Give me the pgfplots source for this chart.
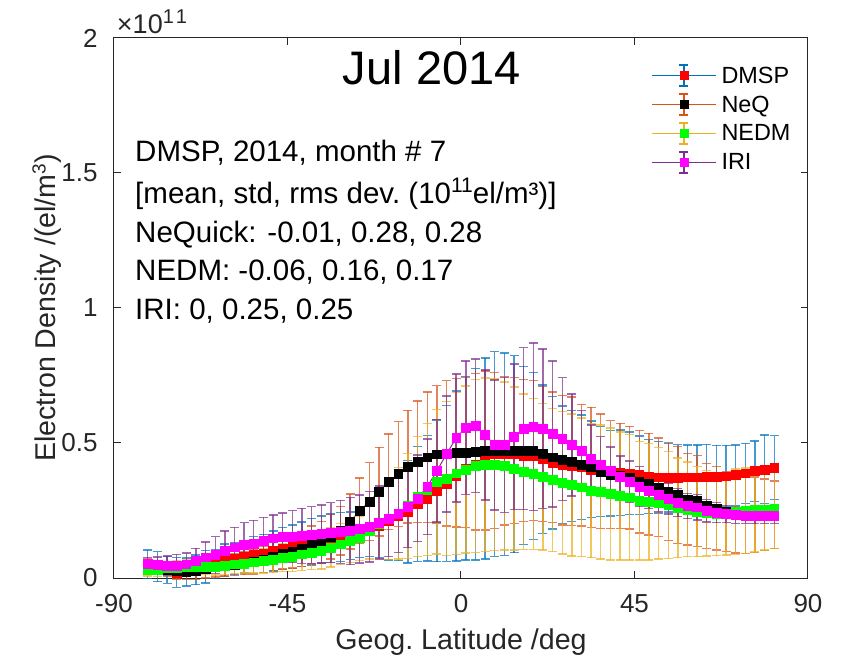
\documentclass[border=0pt]{standalone}
\usepackage{fontspec}
\setmainfont{Liberation Sans}
\usepackage{pgfplots}
\usepackage{pgfplotstable}
\pgfplotsset{compat=1.18}

\definecolor{ebBlue}{rgb}{0,0.447,0.741}
\definecolor{ebOrange}{rgb}{0.85,0.325,0.098}
\definecolor{ebYellow}{rgb}{0.929,0.694,0.125}
\definecolor{ebPurple}{rgb}{0.494,0.184,0.556}
\definecolor{axgray}{rgb}{0.15,0.15,0.15}
\definecolor{mkRed}{rgb}{1,0,0}
\definecolor{mkBlack}{rgb}{0,0,0}
\definecolor{mkGreen}{rgb}{0,1,0}
\definecolor{mkMagenta}{rgb}{1,0,1}

% electron density (1e11 el/m^3) and standard deviation, 2.5 deg latitude bins
\pgfplotstableread{
lat ne err
-81.25 0.051 0.053
-78.75 0.042 0.056
-76.25 0.030 0.050
-73.75 0.020 0.055
-71.25 0.022 0.052
-68.75 0.030 0.055
-66.25 0.042 0.060
-63.75 0.051 0.052
-61.25 0.066 0.060
-58.75 0.072 0.058
-56.25 0.079 0.060
-53.75 0.085 0.068
-51.25 0.091 0.070
-48.75 0.100 0.074
-46.25 0.110 0.078
-43.75 0.116 0.080
-41.25 0.125 0.082
-38.75 0.134 0.086
-36.25 0.141 0.088
-33.75 0.147 0.090
-31.25 0.152 0.090
-28.75 0.157 0.088
-26.25 0.165 0.088
-23.75 0.180 0.100
-21.25 0.195 0.120
-18.75 0.212 0.145
-16.25 0.232 0.168
-13.75 0.246 0.190
-11.25 0.274 0.212
-8.75 0.295 0.232
-6.25 0.323 0.262
-3.75 0.350 0.288
-1.25 0.378 0.315
1.25 0.406 0.340
3.75 0.421 0.354
6.25 0.443 0.372
8.75 0.459 0.379
11.25 0.459 0.375
13.75 0.459 0.365
16.25 0.454 0.330
18.75 0.452 0.310
21.25 0.440 0.275
23.75 0.427 0.245
26.25 0.419 0.218
28.75 0.415 0.205
31.25 0.410 0.193
33.75 0.402 0.179
36.25 0.394 0.167
38.75 0.388 0.158
41.25 0.390 0.158
43.75 0.388 0.153
46.25 0.381 0.145
48.75 0.376 0.138
51.25 0.373 0.133
53.75 0.372 0.127
56.25 0.372 0.122
58.75 0.373 0.120
61.25 0.373 0.120
63.75 0.375 0.120
66.25 0.376 0.115
68.75 0.377 0.114
71.25 0.381 0.112
73.75 0.388 0.111
76.25 0.396 0.112
78.75 0.402 0.127
81.25 0.409 0.118
}\dmsp

\pgfplotstableread{
lat ne err
-81.25 0.045 0.025
-78.75 0.040 0.025
-76.25 0.032 0.026
-73.75 0.025 0.028
-71.25 0.024 0.030
-68.75 0.027 0.032
-66.25 0.034 0.034
-63.75 0.040 0.036
-61.25 0.045 0.038
-58.75 0.049 0.040
-56.25 0.054 0.042
-53.75 0.060 0.045
-51.25 0.069 0.048
-48.75 0.079 0.052
-46.25 0.089 0.056
-43.75 0.097 0.060
-41.25 0.107 0.064
-38.75 0.122 0.070
-36.25 0.134 0.076
-33.75 0.153 0.082
-31.25 0.175 0.090
-28.75 0.209 0.102
-26.25 0.250 0.120
-23.75 0.283 0.144
-21.25 0.320 0.164
-18.75 0.357 0.177
-16.25 0.385 0.194
-13.75 0.412 0.209
-11.25 0.431 0.225
-8.75 0.447 0.242
-6.25 0.458 0.254
-3.75 0.462 0.269
-1.25 0.464 0.275
1.25 0.465 0.278
3.75 0.468 0.290
6.25 0.472 0.294
8.75 0.472 0.288
11.25 0.472 0.275
13.75 0.472 0.270
16.25 0.472 0.263
18.75 0.472 0.260
21.25 0.459 0.250
23.75 0.447 0.242
26.25 0.437 0.240
28.75 0.432 0.238
31.25 0.418 0.225
33.75 0.410 0.222
36.25 0.395 0.212
38.75 0.383 0.200
41.25 0.378 0.195
43.75 0.372 0.190
46.25 0.357 0.190
48.75 0.348 0.188
51.25 0.336 0.183
53.75 0.320 0.182
56.25 0.307 0.180
58.75 0.292 0.170
61.25 0.285 0.169
63.75 0.267 0.157
66.25 0.258 0.154
68.75 0.246 0.148
71.25 0.240 0.148
73.75 0.236 0.145
76.25 0.234 0.140
78.75 0.234 0.133
81.25 0.234 0.125
}\neq

\pgfplotstableread{
lat ne err
-81.25 0.030 0.023
-78.75 0.030 0.024
-76.25 0.036 0.026
-73.75 0.036 0.027
-71.25 0.040 0.028
-68.75 0.040 0.029
-66.25 0.042 0.030
-63.75 0.042 0.031
-61.25 0.046 0.032
-58.75 0.051 0.034
-56.25 0.054 0.036
-53.75 0.058 0.040
-51.25 0.063 0.044
-48.75 0.068 0.048
-46.25 0.075 0.052
-43.75 0.080 0.056
-41.25 0.088 0.060
-38.75 0.095 0.064
-36.25 0.102 0.068
-33.75 0.113 0.072
-31.25 0.125 0.076
-28.75 0.138 0.080
-26.25 0.147 0.082
-23.75 0.175 0.105
-21.25 0.200 0.128
-18.75 0.221 0.152
-16.25 0.240 0.170
-13.75 0.267 0.195
-11.25 0.301 0.222
-8.75 0.328 0.245
-6.25 0.357 0.268
-3.75 0.369 0.285
-1.25 0.388 0.300
1.25 0.402 0.309
3.75 0.415 0.321
6.25 0.419 0.321
8.75 0.419 0.318
11.25 0.415 0.311
13.75 0.406 0.302
16.25 0.394 0.288
18.75 0.385 0.279
21.25 0.375 0.272
23.75 0.363 0.265
26.25 0.353 0.264
28.75 0.344 0.263
31.25 0.336 0.257
33.75 0.323 0.248
36.25 0.319 0.248
38.75 0.311 0.244
41.25 0.304 0.237
43.75 0.299 0.232
46.25 0.286 0.220
48.75 0.283 0.216
51.25 0.277 0.207
53.75 0.270 0.198
56.25 0.260 0.185
58.75 0.254 0.175
61.25 0.246 0.167
63.75 0.240 0.158
66.25 0.236 0.153
68.75 0.237 0.152
71.25 0.246 0.158
73.75 0.249 0.158
76.25 0.254 0.158
78.75 0.254 0.151
81.25 0.256 0.146
}\nedm

\pgfplotstableread{
lat ne err
-81.25 0.052 0.025
-78.75 0.048 0.030
-76.25 0.046 0.036
-73.75 0.046 0.042
-71.25 0.051 0.041
-68.75 0.063 0.047
-66.25 0.077 0.056
-63.75 0.085 0.068
-61.25 0.101 0.073
-58.75 0.114 0.074
-56.25 0.122 0.083
-53.75 0.128 0.086
-51.25 0.137 0.088
-48.75 0.147 0.086
-46.25 0.153 0.088
-43.75 0.153 0.096
-41.25 0.156 0.102
-38.75 0.159 0.105
-36.25 0.163 0.107
-33.75 0.168 0.111
-31.25 0.171 0.117
-28.75 0.174 0.125
-26.25 0.181 0.126
-23.75 0.190 0.130
-21.25 0.205 0.135
-18.75 0.219 0.140
-16.25 0.237 0.143
-13.75 0.264 0.152
-11.25 0.295 0.160
-8.75 0.338 0.177
-6.25 0.397 0.190
-3.75 0.459 0.215
-1.25 0.519 0.237
1.25 0.557 0.247
3.75 0.564 0.247
6.25 0.530 0.241
8.75 0.493 0.241
11.25 0.493 0.250
13.75 0.523 0.270
16.25 0.553 0.300
18.75 0.560 0.311
21.25 0.553 0.295
23.75 0.533 0.270
26.25 0.515 0.227
28.75 0.493 0.189
31.25 0.470 0.150
33.75 0.443 0.123
36.25 0.419 0.104
38.75 0.397 0.088
41.25 0.375 0.077
43.75 0.357 0.076
46.25 0.338 0.074
48.75 0.323 0.065
51.25 0.307 0.062
53.75 0.294 0.057
56.25 0.279 0.052
58.75 0.267 0.047
61.25 0.262 0.047
63.75 0.249 0.041
66.25 0.242 0.037
68.75 0.237 0.032
71.25 0.233 0.031
73.75 0.232 0.030
76.25 0.231 0.030
78.75 0.231 0.030
81.25 0.231 0.030
}\iri

% legend symbol: line, error bar with caps, filled square
\newcommand{\ebLegend}[2]{%
  \draw[#1, line width=1.3bp] (0bp,0bp) -- (64bp,0bp);
  \draw[#1, line width=1.3bp] (32bp,-10.5bp) -- (32bp,10.5bp)
    (27.5bp,-10.5bp) -- (36.5bp,-10.5bp) (27.5bp,10.5bp) -- (36.5bp,10.5bp);
  \path plot[mark=square*, mark size=4bp, mark options={draw=#2, fill=#2, line width=0.5bp}] coordinates {(32bp,0bp)};
}

% raised exponent at a fixed size
\newcommand{\expo}[3][19bp]{\raisebox{#3}{\fontsize{#1}{22bp}\selectfont #2}}

\pgfplotsset{
  ebseries/.style n args={2}{
    #1, line width=1bp, mark=square*, mark size=4.4bp,
    mark options={draw=#2, fill=#2, line width=0.5bp, solid},
    legend image code/.code={\ebLegend{#1}{#2}},
    error bars/y dir=both, error bars/y explicit,
    error bars/error bar style={#1, line width=1.4bp, opacity=0.72},
    error bars/error mark options={rotate=90, #1, line width=1.4bp, mark size=4.5bp, opacity=0.72},
  },
}

\begin{document}
\begin{tikzpicture}
\useasboundingbox (-114bp,-79bp) rectangle (729bp,578bp);
\begin{axis}[
  at={(0,0)}, anchor=south west,
  scale only axis, width=694bp, height=540bp,
  clip=false,
  xmin=-90, xmax=90, ymin=0, ymax=2,
  xtick={-90,-45,0,45,90}, ytick={0,0.5,1,1.5,2},
  minor tick num=0,
  tick align=inside, major tick length=7bp,
  axis line style={axgray, line width=1bp},
  every tick/.append style={axgray, line width=1bp},
  /pgf/number format/assume math mode=true,
  tick label style={font=\fontsize{26bp}{30bp}\selectfont, text=axgray},
  yticklabel style={xshift=-13bp},
  xticklabel style={yshift=-13bp},
  xlabel={Geog.\ Latitude /deg},
  ylabel={Electron Density /(el/m\expo{3}{10bp})},
  label style={font=\fontsize{28.6bp}{33bp}\selectfont, text=axgray},
  xlabel style={at={(axis description cs:0.5,-0.118)}, anchor=center},
  ylabel style={at={(axis description cs:-0.0965,0.5)}, anchor=center},
  legend style={draw=none, fill=none, at={(rel axis cs:0.7695,0.955)}, anchor=north west,
    font=\fontsize{23.4bp}{27bp}\selectfont, nodes={inner sep=0bp}, row sep=6.7bp},
  legend cell align=left,
]
\addplot[ebseries={ebBlue}{mkRed}] table[x=lat, y=ne, y error=err] {\dmsp};
\addlegendentry{\hspace{5bp}DMSP}
\addplot[ebseries={ebOrange}{mkBlack}] table[x=lat, y=ne, y error=err] {\neq};
\addlegendentry{\hspace{5bp}NeQ}
\addplot[ebseries={ebYellow}{mkGreen}] table[x=lat, y=ne, y error=err] {\nedm};
\addlegendentry{\hspace{5bp}NEDM}
\addplot[ebseries={ebPurple}{mkMagenta}] table[x=lat, y=ne, y error=err] {\iri};
\addlegendentry{\hspace{5bp}IRI}

\node[anchor=base west, inner sep=0pt, text=axgray, font=\fontsize{27bp}{30bp}\selectfont]
  at (rel axis cs:0.004,1.009) {×10\expo[20bp]{1\kern2bp 1}{10bp}};
\node[anchor=base, inner sep=0pt, font=\fontsize{47bp}{52bp}\selectfont]
  at (rel axis cs:0.458,0.913) {Jul 2014};
\begin{scope}[every node/.style={anchor=base west, inner sep=0pt, font=\fontsize{29.5bp}{34bp}\selectfont}]
\node at (rel axis cs:0.0303,0.7704) {DMSP, 2014, month \# 7};
\node at (rel axis cs:0.0303,0.6926) {[mean, std, rms dev.\ (10\expo[21bp]{11}{11bp}el/m³)]};
\node at (rel axis cs:0.0303,0.6204) {NeQuick: -0.01, 0.28, 0.28};
\node at (rel axis cs:0.0303,0.5500) {NEDM: -0.06, 0.16, 0.17};
\node at (rel axis cs:0.0303,0.4796) {IRI: 0, 0.25, 0.25};
\end{scope}
\end{axis}
\end{tikzpicture}
\end{document}
